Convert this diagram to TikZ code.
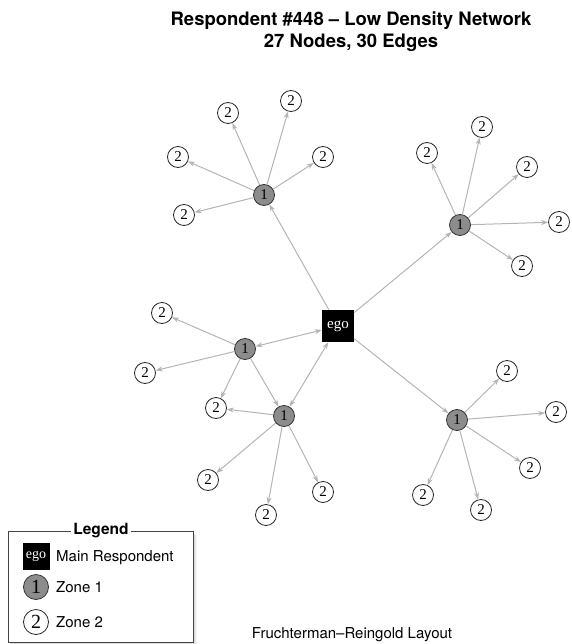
\documentclass[tikz,border=0pt]{standalone}
\usepackage{fontspec}
\setmainfont{Liberation Serif}
\newfontfamily\helv{TeX Gyre Heros}
\usetikzlibrary{arrows.meta}
\definecolor{zonegray}{HTML}{8C8C8C}
\definecolor{edgegray}{HTML}{B4B4B4}
\definecolor{boxgray}{HTML}{444444}
\begin{document}
\begin{tikzpicture}[x=1pt,y=-1pt,
  edge/.style={draw=edgegray, line width=1pt},
  arr/.style={edge, -{Stealth[length=7pt,width=5pt]}},
  biarr/.style={edge, {Stealth[length=7pt,width=5pt]}-{Stealth[length=7pt,width=5pt]}},
  zone1/.style={circle, draw=black!80, fill=zonegray, line width=0.8pt, minimum size=21pt, inner sep=0pt, font=\fontsize{15}{15}\selectfont},
  zone2/.style={circle, draw=black!85, fill=white, line width=0.8pt, minimum size=21pt, inner sep=0pt, font=\fontsize{15}{15}\selectfont},
  egobox/.style={fill=black, text=white, minimum size=32pt, inner sep=0pt, font=\fontsize{15}{15}\selectfont},
  titletext/.style={font=\helv\bfseries\fontsize{18.5}{20}\selectfont, anchor=base, inner sep=0pt},
  labeltext/.style={font=\helv\fontsize{15}{16}\selectfont, inner sep=0pt}
]
\useasboundingbox (0,0) rectangle (571,644);

% titles
\node[titletext] (t1) at (351,26) {Respondent \#448 \textendash{} Low Density Network};
\node[titletext] (t2) at (351,48) {27 Nodes, 30 Edges};
\node[labeltext, anchor=base] (sub) at (352,638) {Fruchterman\textendash Reingold Layout};

% nodes
\node[egobox] (ego) at (338,326) {ego};
\node[zone1] (A) at (264,195) {1};
\node[zone1] (B) at (460,225) {1};
\node[zone1] (C) at (245,349) {1};
\node[zone1] (D) at (284,416) {1};
\node[zone1] (E) at (457,420) {1};

\node[zone2] (a1) at (228,113) {2};
\node[zone2] (a2) at (291,101) {2};
\node[zone2] (a3) at (323,157) {2};
\node[zone2] (a4) at (178,157) {2};
\node[zone2] (a5) at (184,215) {2};

\node[zone2] (b1) at (482,127) {2};
\node[zone2] (b2) at (427,153) {2};
\node[zone2] (b3) at (527,167) {2};
\node[zone2] (b4) at (559,222) {2};
\node[zone2] (b5) at (522,266) {2};

\node[zone2] (c1) at (162,313) {2};
\node[zone2] (c2) at (145,373) {2};
\node[zone2] (c3) at (216,408) {2};

\node[zone2] (d1) at (208,480) {2};
\node[zone2] (d2) at (266,515) {2};
\node[zone2] (d3) at (323,492) {2};

\node[zone2] (e1) at (507,371) {2};
\node[zone2] (e2) at (556,412) {2};
\node[zone2] (e3) at (530,468) {2};
\node[zone2] (e4) at (423,495) {2};
\node[zone2] (e5) at (481,510) {2};

% edges
\draw[arr] (ego) -- (A);
\draw[arr] (ego) -- (B);
\draw[arr] (ego) -- (E);
\draw[biarr] (ego) -- (C);
\draw[biarr] (ego) -- (D);
\draw[arr] (C) -- (D);

\foreach \t in {a1,a2,a3,a4,a5} \draw[arr] (A) -- (\t);
\foreach \t in {b1,b2,b3,b4,b5} \draw[arr] (B) -- (\t);
\foreach \t in {c1,c2,c3} \draw[arr] (C) -- (\t);
\foreach \t in {c3,d1,d2,d3} \draw[arr] (D) -- (\t);
\foreach \t in {e1,e2,e3,e4,e5} \draw[arr] (E) -- (\t);

% legend
\foreach \o/\op in {4/0.04,3/0.05,2/0.06,1/0.07} {
  \fill[black, opacity=\op] (8+\o,531+\o) rectangle (193+\o,642+\o);
}
\node[draw=boxgray, fill=white, line width=0.8pt, minimum width=185pt, minimum height=111pt, inner sep=0pt] (leg) at (100.5,586.5) {};
\node[fill=white, font=\helv\bfseries\fontsize{15.5}{16}\selectfont, inner sep=2pt] (legt) at (101,531) {Legend};
\node[egobox, minimum size=27pt, font=\fontsize{14}{14}\selectfont] (lego) at (36,556) {ego};
\node[zone1, minimum size=25pt, font=\fontsize{20}{20}\selectfont] (lz1) at (36,587) {1};
\node[zone2, minimum size=25pt, font=\fontsize{20}{20}\selectfont] (lz2) at (36,622) {2};
\node[labeltext, anchor=base west] (lt0) at (56,561) {Main Respondent};
\node[labeltext, anchor=base west] (lt1) at (56,592.5) {Zone 1};
\node[labeltext, anchor=base west] (lt2) at (56,627.5) {Zone 2};
\end{tikzpicture}
\end{document}
